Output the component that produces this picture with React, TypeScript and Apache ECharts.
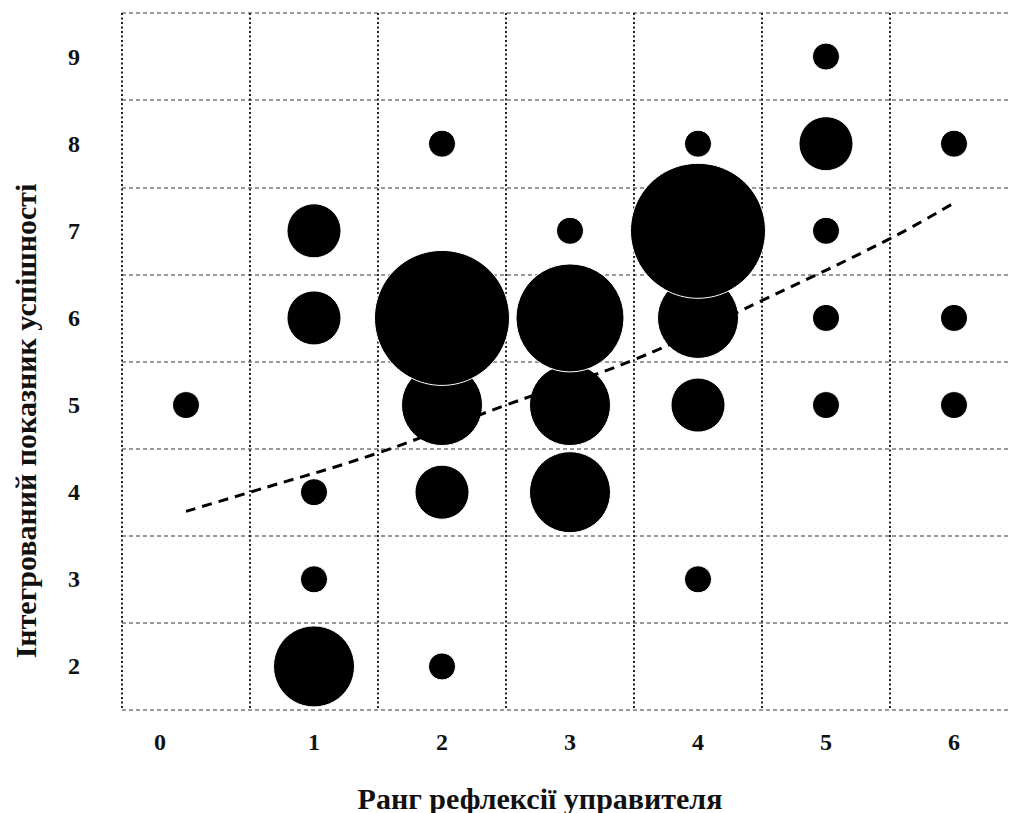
import React, { useEffect, useRef } from "react";
import * as echarts from "echarts";

const xCategories = ["0", "1", "2", "3", "4", "5", "6"];
const yCategories = ["2", "3", "4", "5", "6", "7", "8", "9"];

// [rank x, index y, weight]
const bubbleX = [0, 1, 1, 1, 1, 1, 2, 2, 2, 2, 2, 3, 3, 3, 3, 4, 4, 4, 4, 4, 5, 5, 5, 5, 5, 6, 6, 6];
const bubbleY = [5, 7, 6, 4, 3, 2, 8, 6, 5, 4, 2, 7, 6, 5, 4, 8, 7, 6, 5, 3, 9, 8, 7, 6, 5, 8, 6, 5];
const bubbleW = [1, 2, 2, 1, 1, 3, 1, 5, 3, 2, 1, 1, 4, 3, 3, 1, 5, 3, 2, 1, 1, 2, 1, 1, 1, 1, 1, 1];

const trendX = [0, 0.5, 1.5, 2.5, 3.5, 4.5, 5.5, 6];
const trendY = [3.78, 4.0, 4.45, 5.0, 5.52, 6.2, 6.91, 7.32];

const xTitle = "Ранг рефлексії управителя";
const yTitle = "Інтегрований показник успішності";

const FONT = "'Liberation Serif', 'Times New Roman', serif";

export default function App() {
  const ref = useRef<HTMLDivElement>(null);
  useEffect(() => {
    if (!ref.current) return;
    const chart = echarts.init(ref.current, undefined, { renderer: "svg" });
    const bubbles = bubbleX
      .map((x, i) => [x, bubbleY[i], bubbleW[i]])
      .sort((a, b) => a[1] - b[1]);
    const trend = trendX.map((x, i) => [x, trendY[i]]);
    chart.setOption({
      animation: false,
      backgroundColor: "#fff",
      grid: { left: 122, top: 13, right: 0, bottom: 103 },
      xAxis: [
        {
          type: "category",
          data: xCategories,
          boundaryGap: true,
          axisLine: { show: false },
          axisTick: { show: false },
          axisLabel: {
            margin: 20,
            fontFamily: FONT,
            fontWeight: "bold",
            fontSize: 24,
            color: "#111",
            formatter: (v: string) => (v === "0" ? "{z|0}" : v),
            rich: {
              z: {
                fontFamily: FONT,
                fontWeight: "bold",
                fontSize: 24,
                color: "#111",
                padding: [0, 52, 0, 0],
              },
            },
          },
          splitLine: {
            show: true,
            interval: 0,
            lineStyle: { color: "#222", width: 2, type: [2, 2.5] },
          },
        },
        { type: "value", min: -0.5, max: 6.5, show: false },
      ],
      yAxis: [
        {
          type: "category",
          data: yCategories,
          boundaryGap: true,
          axisLine: { show: false },
          axisTick: { show: false },
          axisLabel: {
            margin: 42,
            fontFamily: FONT,
            fontWeight: "bold",
            fontSize: 24,
            color: "#111",
          },
          splitLine: {
            show: true,
            interval: 0,
            lineStyle: { color: "#9a9a9a", width: 2, type: [4, 3] },
          },
        },
        { type: "value", min: 1.5, max: 9.5, show: false },
      ],
      series: [
        {
          type: "scatter",
          xAxisIndex: 1,
          yAxisIndex: 1,
          data: bubbles,
          symbolSize: (d: number[]) => d[2] * 27,
          itemStyle: { color: "#000", borderColor: "#fff", borderWidth: 1, opacity: 1 },
          z: 3,
        },
        {
          type: "line",
          xAxisIndex: 1,
          yAxisIndex: 1,
          data: trend,
          smooth: 0.4,
          showSymbol: false,
          symbol: "none",
          lineStyle: { color: "#000", width: 3, type: [10, 7] },
          z: 4,
        },
      ],
      graphic: [
        {
          type: "text",
          x: 540,
          y: 798,
          style: {
            text: xTitle,
            font: `bold 30px ${FONT}`,
            fill: "#111",
            textAlign: "center",
            textVerticalAlign: "middle",
          },
        },
        {
          type: "text",
          x: 25,
          y: 421,
          rotation: Math.PI / 2,
          style: {
            text: yTitle,
            font: `bold 30px ${FONT}`,
            fill: "#111",
            textAlign: "center",
            textVerticalAlign: "middle",
          },
        },
      ],
    });
    return () => chart.dispose();
  }, []);
  return (
    <div
      ref={ref}
      style={{ position: "fixed", left: 0, top: 0, width: 1018, height: 813 }}
    />
  );
}
